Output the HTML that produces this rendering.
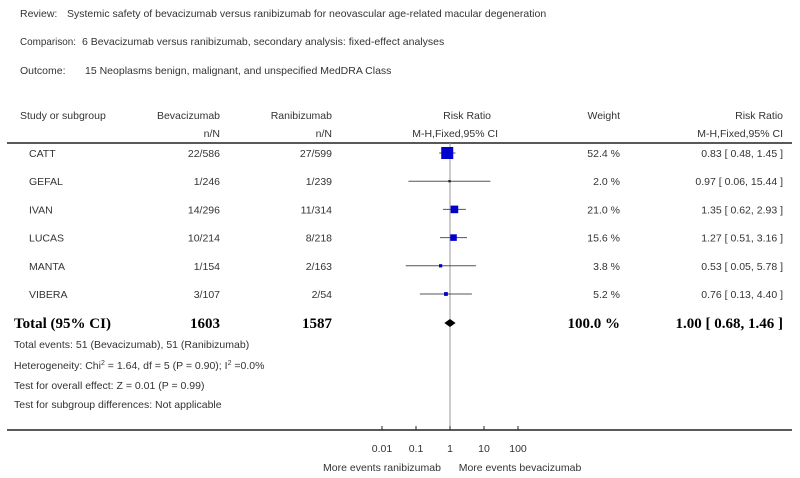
<!DOCTYPE html>
<html><head><meta charset="utf-8"><style>
html,body{margin:0;padding:0;background:#fff}
svg{display:block}
text{font-family:"Liberation Sans",sans-serif;font-size:10.5px;fill:#333}
.b{font-family:"Liberation Serif",serif;font-weight:bold;font-size:15px;fill:#000}
</style></head><body>
<svg id="c" width="800" height="478" viewBox="0 0 800 478">
<g>
<text x="20" y="17">Review:</text><text x="67" y="17">Systemic safety of bevacizumab versus ranibizumab for neovascular age-related macular degeneration</text>
<text x="20" y="45" textLength="56" lengthAdjust="spacingAndGlyphs">Comparison:</text><text x="82" y="45">6 Bevacizumab versus ranibizumab, secondary analysis: fixed-effect analyses</text>
<text x="20" y="74">Outcome:</text><text x="85" y="74">15 Neoplasms benign, malignant, and unspecified MedDRA Class</text>
</g>
<g>
<text x="20" y="119">Study or subgroup</text>
<text x="220" y="119" text-anchor="end">Bevacizumab</text>
<text x="220" y="137" text-anchor="end">n/N</text>
<text x="332" y="119" text-anchor="end">Ranibizumab</text>
<text x="332" y="137" text-anchor="end">n/N</text>
<text x="491" y="119" text-anchor="end">Risk Ratio</text>
<text x="498" y="137" text-anchor="end">M-H,Fixed,95% CI</text>
<text x="620" y="119" text-anchor="end">Weight</text>
<text x="783" y="119" text-anchor="end">Risk Ratio</text>
<text x="783" y="137" text-anchor="end">M-H,Fixed,95% CI</text>
</g>
<line x1="7" y1="143" x2="792" y2="143" stroke="#222" stroke-width="1.5"/>
<line x1="7" y1="430" x2="792" y2="430" stroke="#222" stroke-width="1.5"/>
<g id="rows"></g>
<g>
<text x="14" y="348">Total events: 51 (Bevacizumab), 51 (Ranibizumab)</text>
<text x="14" y="369">Heterogeneity: Chi<tspan dy="-4" font-size="7">2</tspan><tspan dy="4"> = 1.64, df = 5 (P = 0.90); I</tspan><tspan dy="-4" font-size="7">2</tspan><tspan dy="4"> =0.0%</tspan></text>
<text x="14" y="389">Test for overall effect: Z = 0.01 (P = 0.99)</text>
<text x="14" y="408">Test for subgroup differences: Not applicable</text>
</g>
<text x="382" y="471" text-anchor="middle" font-size="9">More events ranibizumab</text>
<text x="520" y="471" text-anchor="middle" font-size="9">More events bevacizumab</text>
</svg>
<script>
const studies=["CATT","GEFAL","IVAN","LUCAS","MANTA","VIBERA"];
const bevac=["22/586","1/246","14/296","10/214","1/154","3/107"];
const ranib=["27/599","1/239","11/314","8/218","2/163","2/54"];
const rr=[0.83,0.97,1.35,1.27,0.53,0.76];
const lo=[0.48,0.06,0.62,0.51,0.05,0.13];
const hi=[1.45,15.44,2.93,3.16,5.78,4.40];
const weights=[52.4,2.0,21.0,15.6,3.8,5.2];
const total={rr:1.00,lo:0.68,hi:1.46,bev:"1603",ran:"1587"};
const ticks=[0.01,0.1,1,10,100];
const tickLabels=["0.01","0.1","1","10","100"];
const NS="http://www.w3.org/2000/svg";
const g=document.getElementById('rows');
const xs=v=>450+34*Math.log10(v);
const ys=i=>153+28.2*i;
function mk(t,a,p){const e=document.createElementNS(NS,t);for(const k in a)e.setAttribute(k,a[k]);(p||g).appendChild(e);return e;}
const vl=mk('line',{x1:xs(1),y1:143,x2:xs(1),y2:430,stroke:'#999','stroke-width':1});


const f=v=>v.toFixed(2);
studies.forEach((s,i)=>{
  const y=ys(i);
  const row=mk('g',{});
  
  
  let t=mk('text',{x:29,y:y+4},row);t.textContent=s;
  t=mk('text',{x:220,y:y+4,'text-anchor':'end'},row);t.textContent=bevac[i];
  t=mk('text',{x:332,y:y+4,'text-anchor':'end'},row);t.textContent=ranib[i];
  t=mk('text',{x:620,y:y+4,'text-anchor':'end'},row);t.textContent=weights[i].toFixed(1)+' %';
  t=mk('text',{x:783,y:y+4,'text-anchor':'end'},row);t.textContent=f(rr[i])+' [ '+f(lo[i])+', '+f(hi[i])+' ]';
  const ci=mk('line',{x1:xs(lo[i]),y1:y,x2:xs(hi[i]),y2:y,stroke:'#555','stroke-width':1},row);
  
  
  const sz=Math.max(2,12*Math.sqrt(weights[i]/52.4));
  const sq=mk('rect',{x:xs(rr[i])-sz/2,y:y-sz/2,width:sz,height:sz,fill:sz>3?'#0000cc':'#222'},row);
  
  
});
const ty=323;
const tr=mk('g',{});


let t=mk('text',{x:14,y:ty+5,class:'b'},tr);t.textContent='Total (95% CI)';
t=mk('text',{x:220,y:ty+5,class:'b','text-anchor':'end'},tr);t.textContent=total.bev;
t=mk('text',{x:332,y:ty+5,class:'b','text-anchor':'end'},tr);t.textContent=total.ran;
t=mk('text',{x:620,y:ty+5,class:'b','text-anchor':'end'},tr);t.textContent='100.0 %';
t=mk('text',{x:783,y:ty+5,class:'b','text-anchor':'end'},tr);t.textContent=f(total.rr)+' [ '+f(total.lo)+', '+f(total.hi)+' ]';
const d=mk('polygon',{points:`${xs(total.lo)},${ty} ${xs(total.rr)},${ty-4} ${xs(total.hi)},${ty} ${xs(total.rr)},${ty+4}`,fill:'#000'},tr);


ticks.forEach((v,i)=>{
  const tk=mk('line',{x1:xs(v),y1:426,x2:xs(v),y2:430,stroke:'#222'});
  
  
  const tl=mk('text',{x:xs(v),y:452,'text-anchor':'middle','font-size':'9.5'});
  
  
  tl.textContent=tickLabels[i];
});
</script>
</body></html>
